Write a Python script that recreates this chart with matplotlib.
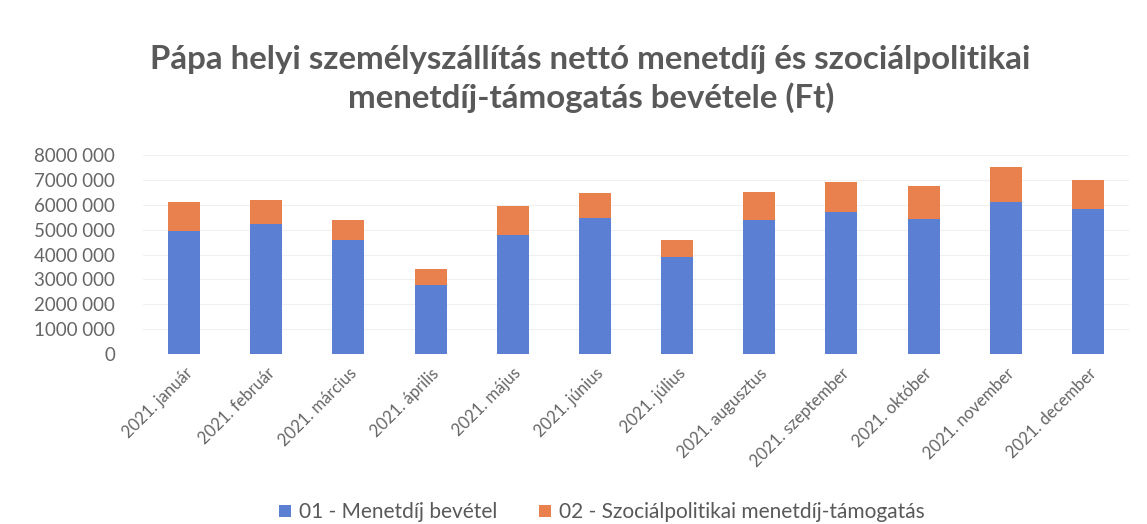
import matplotlib
matplotlib.use("Agg")
import matplotlib.pyplot as plt
from matplotlib.ticker import FuncFormatter, MultipleLocator
import numpy as np

months = ["2021. január", "2021. február", "2021. március", "2021. április",
          "2021. május", "2021. június", "2021. július", "2021. augusztus",
          "2021. szeptember", "2021. október", "2021. november", "2021. december"]
menetdij = [4950000, 5230000, 4600000, 2770000, 4800000, 5470000,
            3900000, 5380000, 5700000, 5430000, 6100000, 5840000]
szocpol = [1150000, 970000, 770000, 660000, 1130000, 1020000,
           700000, 1120000, 1200000, 1320000, 1400000, 1160000]
series_names = ["01 - Menetdíj bevétel", "02 - Szociálpolitikai menetdíj-támogatás"]
title = "Pápa helyi személyszállítás nettó menetdíj és szociálpolitikai\nmenetdíj-támogatás bevétele (Ft)"

blue = "#5b7fd3"
orange = "#e9814f"
gray = "#595959"

plt.rcParams['font.family'] = ['Lato', 'DejaVu Sans']

fig = plt.figure(figsize=(11.47, 5.24), dpi=100)
ax = fig.add_axes([0.1247, 0.3244, 0.8596, 0.3798])

x = np.arange(len(months))
ax.bar(x, menetdij, width=0.39, color=blue, label=series_names[0], zorder=3)
ax.bar(x, szocpol, width=0.39, bottom=menetdij, color=orange, label=series_names[1], zorder=3)

ax.set_xlim(-0.5, len(months) - 0.5)
ax.set_ylim(0, 8000000)
ax.yaxis.set_major_locator(MultipleLocator(1000000))
ax.yaxis.set_major_formatter(FuncFormatter(
    lambda v, p: "0" if v == 0 else f"{int(v)//1000} {int(v)%1000:03d}"))
ax.grid(axis='y', color='#f0f0f0', linewidth=0.8, zorder=0)
for s in ax.spines.values():
    s.set_visible(False)
ax.tick_params(axis='both', length=0)
ax.tick_params(axis='y', labelsize=13.5, colors='#666666', pad=20)
ax.set_xticks(x)
ax.set_xticklabels(months, rotation=45, ha='right', rotation_mode='anchor',
                   fontsize=12, color='#666666')
ax.tick_params(axis='x', pad=8)

fig.text(0.515, 0.849, title, ha='center', va='center', fontsize=23.8,
         fontweight='bold', color=gray, linespacing=1.3)

fig.legend(loc='center', bbox_to_anchor=(0.525, 0.022), ncol=2, frameon=False,
           fontsize=15, handlelength=0.55, handleheight=0.55, handletextpad=0.4,
           columnspacing=2.0, labelcolor='#595959')

fig.savefig("out.png", dpi=100, facecolor='white')
